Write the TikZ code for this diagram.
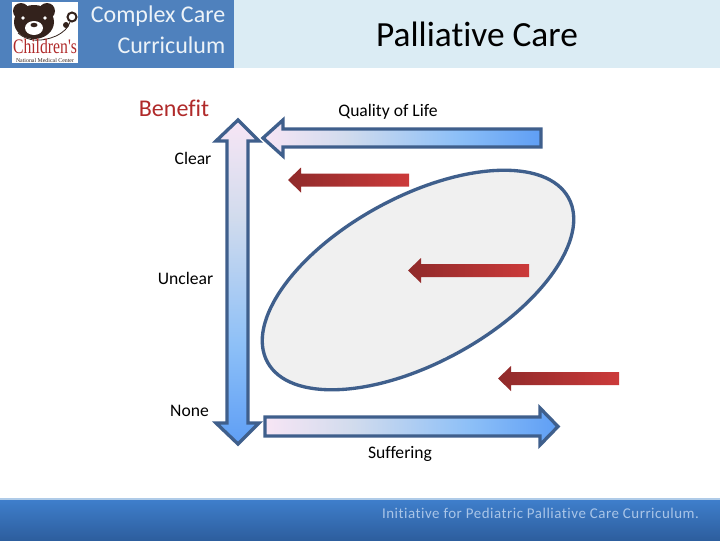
\documentclass[tikz,border=0pt]{standalone}
\usepackage{fontspec}
\setmainfont[Ligatures=NoCommon]{Carlito}
\newfontfamily\logofont{Liberation Serif}
\usepgflibrary{shadings}
\definecolor{headblue}{HTML}{4F81BD}
\definecolor{headpale}{HTML}{DBECF4}
\definecolor{framecol}{HTML}{3F5F8C}
\definecolor{barlight}{HTML}{3F7FCC}
\definecolor{bardark}{HTML}{2D5E9E}
\definecolor{barline}{HTML}{AFCBE8}
\definecolor{footcol}{HTML}{A9C5E8}
\definecolor{bensred}{HTML}{B02A2A}
\definecolor{reddark}{HTML}{8F2A2A}
\definecolor{redlight}{HTML}{CC3A3A}
\definecolor{bearcol}{HTML}{33221C}
\pgfdeclarehorizontalshading{axisbar}{100bp}{
  rgb(0bp)=(0.97,0.90,0.96);
  rgb(25bp)=(0.97,0.90,0.96);
  rgb(40bp)=(0.82,0.86,0.93);
  rgb(60bp)=(0.55,0.75,0.97);
  rgb(75bp)=(0.37,0.62,0.96);
  rgb(100bp)=(0.37,0.62,0.96)}
\tikzset{
  axisarrow/.style={draw=framecol,line width=2.5pt,miter limit=10,shade,shading=axisbar},
  redarrow/.style={left color=reddark,right color=redlight,draw=none},
  headtext/.style={text=white!90!headblue,font=\fontsize{18}{20}\selectfont,align=right,anchor=east},
  axislabel/.style={font=\fontsize{13.2}{15}\selectfont}
}
\begin{document}
\begin{tikzpicture}[x=0.75pt,y=-0.75pt]
    \useasboundingbox (0,0) rectangle (720,540);
    % header
    \fill[white] (0,0) rectangle (720,540);
    \fill[headpale] (234,0) rectangle (720,68);
    \fill[headblue] (0,0) rectangle (234,68);
    \node[headtext] (complex) at (230,16) {Complex Care};
    \node[headtext] (curriculum) at (230,45) {Curriculum};
    \node[font=\fontsize{26.5}{30}\selectfont] (title) at (477,34) {Palliative Care};

    % logo
    \begin{scope}[shift={(12,2)}]
      \fill[white] (0,0) rectangle (66,61);
      \fill[bearcol] (9,9) circle (8);
      \fill[bearcol] (35,9) circle (8);
      \fill[bearcol] (22,20) ellipse (20 and 17);
      \fill[white] (22,26) ellipse (9 and 7);
      \fill[white] (11,16) circle (1.8);
      \fill[white] (33,16) circle (1.8);
      \fill[bearcol] (22,23) ellipse (3.5 and 2.2);
      \draw[bearcol,line width=0.6pt] (6,31) .. controls (16,40) and (30,40) .. (44,34)
        .. controls (52,30) and (56,26) .. (58,20);
      \draw[bearcol,line width=1.5pt] (60,15) circle (4.5);
      \fill[bearcol] (54,23) circle (3);
      \node[inner sep=0pt,text=bensred,font=\logofont\fontsize{15.5}{16}\selectfont,xscale=0.76] (childrens) at (33,44.5) {Children's};
      \node[inner sep=0pt,text=bearcol,font=\logofont\fontsize{4.4}{5}\selectfont] (center) at (33,58) {National Medical Center};
    \end{scope}

    % axes
    \draw[axisarrow,shading angle=-90] (238,120) -- (259,141) -- (248,141) -- (248,423) -- (259,423)
      -- (238,444) -- (216,423) -- (227,423) -- (227,141) -- (216,141) -- cycle;
    \draw[axisarrow] (263,138) -- (283,120) -- (283,129) -- (541,129) -- (541,147)
      -- (283,147) -- (283,156) -- cycle;
    \draw[axisarrow] (265,417) -- (540,417) -- (540,408) -- (558,426.5) -- (540,445) -- (540,436)
      -- (265,436) -- cycle;

    % oval
    \draw[framecol,line width=2.5pt,fill=black!6,rotate around={28.6:(418,280)}] (418,280) ellipse (171.5 and 83);

    % red arrows
    \begin{scope}[shift={(288,180)}]
      \path[redarrow] (0,0) -- (13,-12.5) -- (13,-6.5) -- (121,-6.5) -- (121,6.5) -- (13,6.5) -- (13,12.5) -- cycle;
    \end{scope}
    \begin{scope}[shift={(408,270.5)}]
      \path[redarrow] (0,0) -- (13,-12.5) -- (13,-6.5) -- (121,-6.5) -- (121,6.5) -- (13,6.5) -- (13,12.5) -- cycle;
    \end{scope}
    \begin{scope}[shift={(498,378.5)}]
      \path[redarrow] (0,0) -- (13,-12.5) -- (13,-6.5) -- (121,-6.5) -- (121,6.5) -- (13,6.5) -- (13,12.5) -- cycle;
    \end{scope}

    % labels
    \node[text=bensred,font=\fontsize{18}{20}\selectfont] (benefit) at (174,108) {Benefit};
    \node[axislabel] (quality) at (388,112) {Quality of Life};
    \node[axislabel] (clear) at (193,158) {Clear};
    \node[axislabel] (unclear) at (185.5,278) {Unclear};
    \node[axislabel] (none) at (189.5,410.5) {None};
    \node[axislabel] (suffering) at (400,454) {Suffering};

    % footer
    \fill[top color=barlight,bottom color=bardark] (0,499) rectangle (720,540);
    \fill[barline] (0,498) rectangle (720,499.5);
    \node[text=footcol,font=\fontsize{11.2}{13}\selectfont\addfontfeature{LetterSpace=3.5}] (footer) at (540.5,513) {Initiative for Pediatric Palliative Care Curriculum.};
\end{tikzpicture}
\end{document}
